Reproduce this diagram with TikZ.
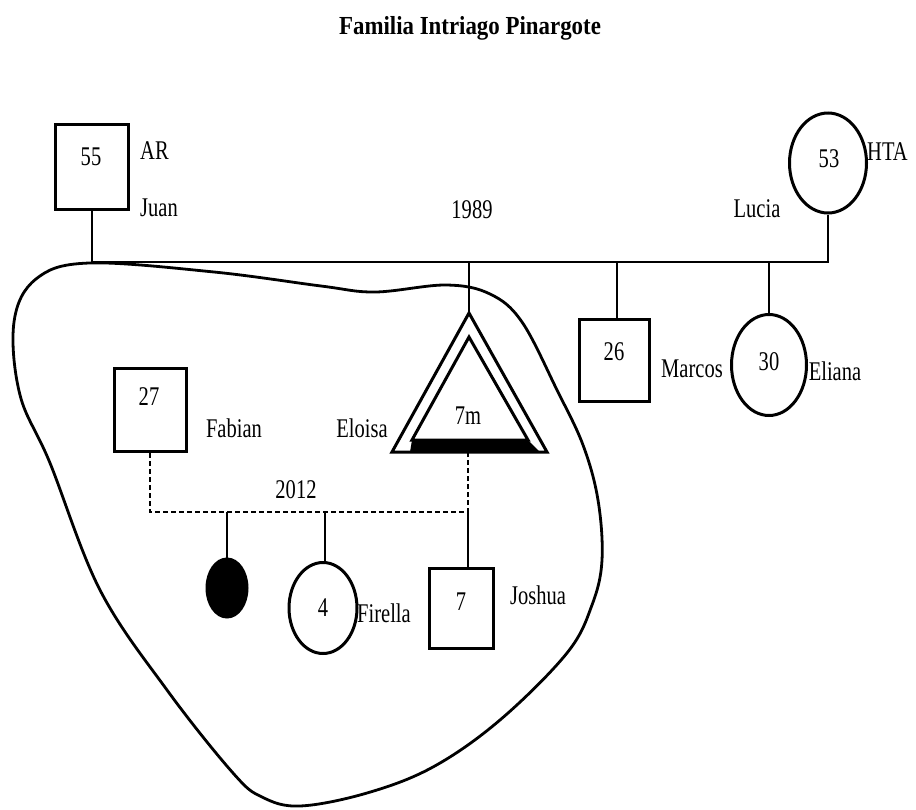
\documentclass[tikz,border=0pt]{standalone}
\usepackage{fontspec}
\setmainfont{Liberation Serif}[FakeStretch=0.76]
\newfontfamily\titlefont{Liberation Serif}[FakeStretch=0.88]
\usetikzlibrary{shapes.geometric}
\begin{document}
\begin{tikzpicture}[x=1pt,y=-1pt,
  sq/.style={draw, line width=3pt, inner sep=0pt},
  fem/.style={draw, ellipse, line width=3pt, inner sep=0pt},
  txt/.style={inner sep=0pt, font=\fontsize{27}{30}\selectfont},
  marriage/.style={line width=2.5pt},
  kid/.style={line width=1.6pt},
  dashline/.style={line width=2pt, dash pattern=on 5pt off 3pt}]
\useasboundingbox (0,0) rectangle (916,809);

% title
\node[inner sep=0pt, font=\titlefont\bfseries\fontsize{26}{30}\selectfont] (title) at (470,28) {Familia Intriago Pinargote};

% emotional boundary
\draw[line width=2.8pt] plot[smooth cycle, tension=0.6] coordinates {
  (89,263) (214,272) (321,286) (375,292) (446,285) (490,294) (522,322)
  (557,390) (583,445) (598,500) (602,560) (592,605) (567,653) (500,720)
  (433,767) (367,793) (300,806) (262,797) (233,773) (167,690) (100,590)
  (50,463) (20,395) (14,322) (36,279)};

% generation 1
\node[sq, minimum width=73pt, minimum height=85pt] (juan) at (92,167) {};
\node[txt] (juanage) at (91,157) {55};
\node[txt, anchor=west] (ar) at (140,151) {AR};
\node[txt, anchor=west] (juanname) at (140,208) {Juan};

\node[fem, minimum width=77pt, minimum height=100pt] (lucia) at (828,163) {};
\node[txt] (luciaage) at (829,159) {53};
\node[txt, anchor=west] (hta) at (867,152) {HTA};
\node[txt] (lucianame) at (757,209) {Lucia};

\coordinate (mL) at (92,262);
\coordinate (mR) at (828,262);
\draw[marriage] (juan.south) -- (mL) -- (mR) -- (lucia.south);
\node[txt] (y1989) at (472,210) {1989};

% generation 2
\coordinate (c1) at (469,262);
\coordinate (c2) at (617,262);
\coordinate (c3) at (769,262);

\coordinate (eloisaTop) at (469,313);
\coordinate (eloisaBot) at (468,452);
\draw[line width=3pt, line join=miter] (469,313) -- (547,452) -- (392,452) -- cycle;
\draw[line width=3pt, line join=miter] (469,337) -- (528,440) -- (412,440) -- cycle;
\fill (412,440) -- (528,440) -- (540,452) -- (410,452) -- cycle;
\node[txt] (eloisaage) at (468,416) {7m};
\node[txt] (eloisaname) at (362,428) {Eloisa};
\draw[kid] (c1) -- (eloisaTop);

\node[sq, minimum width=70pt, minimum height=82pt] (marcos) at (614,360) {};
\node[txt] (marcosage) at (614,352) {26};
\node[txt] (marcosname) at (692,369) {Marcos};
\draw[kid] (c2) -- (marcos.north -| c2);

\node[fem, minimum width=75pt, minimum height=101pt] (eliana) at (769,365) {};
\node[txt] (elianaage) at (769,362) {30};
\node[txt] (eliananame) at (835,371) {Eliana};
\draw[kid] (c3) -- (eliana.north);

\node[sq, minimum width=72pt, minimum height=83pt] (fabian) at (150,410) {};
\node[txt] (fabianage) at (149,397) {27};
\node[txt] (fabianname) at (234,428) {Fabian};

% second union (dashed)
\coordinate (d1) at (150,512);
\coordinate (d2) at (468,512);
\draw[dashline] (fabian.south) -- (d1) -- (d2) -- (eloisaBot);
\node[txt] (y2012) at (296,490) {2012};

% generation 3
\coordinate (k1) at (227,512);
\coordinate (k2) at (325,512);
\node[fem, fill=black, minimum width=40pt, minimum height=58pt] (baby) at (227,588) {};
\draw[kid] (k1) -- (baby.north);

\node[fem, minimum width=68pt, minimum height=91pt] (firella) at (323,608) {};
\node[txt] (firellaage) at (323,608) {4};
\node[txt, anchor=west] (firellaname) at (357,613) {Firella};
\draw[kid] (k2) -- (firella.north -| k2);

\node[sq, minimum width=64pt, minimum height=80pt] (joshua) at (461,608) {};
\node[txt] (joshuaage) at (461,602) {7};
\node[txt] (joshuaname) at (538,595) {Joshua};
\draw[kid] (d2) -- (joshua.north -| d2);
\end{tikzpicture}
\end{document}
